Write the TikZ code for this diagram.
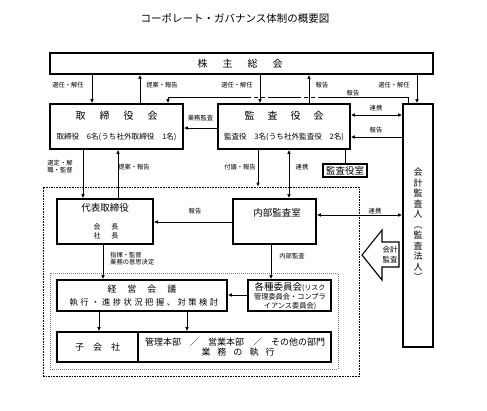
\documentclass[tikz,border=0pt]{standalone}
\usepackage{fontspec}
\setmainfont{Noto Sans CJK JP}
\newfontfamily\jpwide[LetterSpace=30]{Noto Sans CJK JP}
\usetikzlibrary{arrows.meta,calc}
\begin{document}
\begin{tikzpicture}[x=1pt,y=-1pt,
  box/.style={draw, line width=1.6pt, inner sep=0pt},
  txt/.style={inner sep=0pt},
  lbl/.style={inner sep=0pt, font=\fontsize{6.3}{7.5}\selectfont},
  arr/.style={line width=0.9pt, -{Latex[length=4pt,width=3.6pt]}},
  darr/.style={line width=0.9pt, {Latex[length=4pt,width=3.6pt]}-{Latex[length=4pt,width=3.6pt]}},
  plain/.style={line width=0.9pt},
]
\useasboundingbox (0,0) rectangle (487,410);

% title
\node[txt, font=\fontsize{10.5}{12}\selectfont] (title) at (235,18) {コーポレート・ガバナンス体制の概要図};

% outer dotted frames
\node[draw, line width=0.8pt, dash pattern=on 1.6pt off 1pt, minimum width=316pt, minimum height=189pt, inner sep=0pt] (outer) at (201,281.5) {};
\node[draw, gray, line width=0.6pt, dash pattern=on 1pt off 1pt, minimum width=288pt, minimum height=96pt, inner sep=0pt] (inner) at (194,321) {};

% boxes
\node[box, minimum width=383pt, minimum height=21pt] (sh) at (241.5,63.5) {};
\node[box, minimum width=133pt, minimum height=45pt] (tb) at (116.5,126.5) {};
\node[box, minimum width=132pt, minimum height=45pt] (ak) at (284,126.5) {};
\node[box, minimum width=30pt, minimum height=243pt] (ks) at (418,225.5) {};
\node[draw, line width=1.2pt, inner sep=0pt, minimum width=44pt, minimum height=13pt, font=\fontsize{9.5}{11}\selectfont] (ash) at (345,170.5) {監査役室};
\node[box, minimum width=96pt, minimum height=45pt] (dt) at (105,221.5) {};
\node[box, minimum width=83pt, minimum height=45pt] (nk) at (274.5,221.5) {};
\node[box, minimum width=170pt, minimum height=31pt] (kk) at (142,295.5) {};
\node[box, minimum width=83pt, minimum height=31pt] (ii) at (289.5,295.5) {};
\node[box, minimum width=274pt, minimum height=30pt] (bt) at (194,347) {};
\draw[line width=1.6pt] (138,0 |- bt.north) -- (138,0 |- bt.south);

% box texts
\node[txt, font=\fontsize{10}{12}\selectfont] (shT) at (240,63.5) {株\hspace{15pt}主\hspace{15pt}総\hspace{15pt}会};
\node[txt, font=\fontsize{10}{12}\selectfont] (tbT) at (116.5,116) {取\hspace{14pt}締\hspace{14pt}役\hspace{14pt}会};
\node[txt, font=\fontsize{7.6}{9}\selectfont] (tbS) at (116.5,137) {取締役　6名(うち社外取締役　1名)};
\node[txt, font=\fontsize{10}{12}\selectfont] (akT) at (284,116) {監\hspace{13pt}査\hspace{13pt}役\hspace{13pt}会};
\node[txt, font=\fontsize{7.6}{9}\selectfont] (akS) at (284,137) {監査役　3名(うち社外監査役　2名)};
\node[txt, align=center, font=\fontsize{9}{10.5}\selectfont] (ksT) at (418,224.5) {会\\計\\監\\査\\人\\︵\\監\\査\\法\\人\\︶};
\node[txt, font=\fontsize{9.5}{11}\selectfont] (dtT) at (105,208) {代表取締役};
\node[txt, font=\fontsize{7}{8}\selectfont] (dtA) at (106,227) {会\hspace{11pt}長};
\node[txt, font=\fontsize{7}{8}\selectfont] (dtB) at (106,236) {社\hspace{11pt}長};
\node[txt, font=\fontsize{9.5}{11}\selectfont] (nkT) at (277,213) {内部監査室};
\node[txt, font=\fontsize{9}{11}\selectfont] (kkT) at (142,289) {経\hspace{11pt}営\hspace{11pt}会\hspace{11pt}議};
\node[txt, font=\jpwide\fontsize{8.3}{10}\selectfont] (kkS) at (144,302) {執行・進捗状況把握、対策検討};
\node[txt] (iiA) at (290,287) {\fontsize{9.5}{11}\selectfont 各種委員会\fontsize{7}{8}\selectfont(リスク};
\node[txt, font=\fontsize{7.2}{8}\selectfont] (iiB) at (290,297) {管理委員会・コンプラ};
\node[txt, font=\fontsize{7.2}{8}\selectfont] (iiC) at (290,306) {イアンス委員会)};
\node[txt, font=\fontsize{9}{11}\selectfont] (btA) at (97.5,347) {子\hspace{9pt}会\hspace{9pt}社};
\node[txt, font=\fontsize{9}{11}\selectfont] (btB) at (235,342) {管理本部　／　営業本部　／　その他の部門};
\node[txt, font=\fontsize{9}{11}\selectfont] (btC) at (238,352) {業\hspace{7pt}務\hspace{7pt}の\hspace{7pt}執\hspace{7pt}行};

% shareholders connections
\draw[arr] (92,0 |- sh.south) -- (92,0 |- tb.north);
\node[lbl] (l1) at (68,85) {選任・解任};
\draw[arr] (140,0 |- tb.north) -- (140,0 |- sh.south);
\node[lbl] (l2) at (162,85) {提案・報告};
\draw[arr] (260,0 |- sh.south) -- (260,0 |- ak.north);
\node[lbl] (l3) at (237,85) {選任・解任};
\draw[arr] (309,0 |- ak.north) -- (309,0 |- sh.south);
\node[lbl] (l4) at (322,85) {報告};
\draw[arr] (417,0 |- sh.south) -- (417,0 |- ks.north);
\node[lbl] (l5) at (394,85) {選任・解任};

% long report line from auditor to board
\coordinate (r1) at (408,97);
\coordinate (r2) at (322,97);
\coordinate (r3) at (298,97);
\coordinate (r4) at (272,97);
\coordinate (r5) at (248,97);
\coordinate (r6) at (168,97);
\draw[plain] (408,0 |- ks.north) -- (r1) -- (r2);
\draw[plain, dash pattern=on 4pt off 3pt] (r2) -- (r3);
\draw[plain] (r3) -- (r4);
\draw[plain, dash pattern=on 4pt off 3pt] (r4) -- (r5);
\draw[arr] (r5) -- (r6) -- (168,0 |- tb.north);
\node[lbl] (l6) at (353,93.5) {報告};

% audit board connections
\draw[arr] (ak.west |- 0,128) -- (tb.east |- 0,128);
\node[lbl] (l7) at (200.5,118) {業務監査};
\draw[darr] (ak.east |- 0,115) -- (ks.west |- 0,115);
\node[lbl] (l8) at (376,108) {連携};
\draw[arr] (ks.west |- 0,137) -- (ak.east |- 0,137);
\node[lbl] (l9) at (376,130) {報告};
\draw[plain] (345,0 |- ak.south) -- (ash.north);

% board to representative
\draw[arr] (83,0 |- tb.south) -- (83,0 |- dt.north);
\node[lbl, align=center] (l10) at (60,166.5) {選定・解\\職・監督};
\draw[arr] (118,0 |- dt.north) -- (118,0 |- tb.south);
\node[lbl] (l11) at (134,167) {提案・報告};
\draw[arr] (258,0 |- ak.south) -- (258,0 |- outer.north);
\node[lbl] (l12) at (240,167) {付議・報告};
\draw[darr] (289,0 |- ak.south) -- (289,0 |- nk.north);
\node[lbl] (l13) at (302,167) {連携};

% internal audit
\draw[arr] (nk.west |- 0,222) -- (dt.east |- 0,222);
\node[lbl] (l14) at (195,211) {報告};
\draw[darr] (nk.east |- 0,215) -- (ks.west |- 0,215);
\node[lbl] (l15) at (375,211) {連携};
\draw[arr] (103,0 |- dt.south) -- (103,0 |- kk.north);
\node[lbl, align=left, anchor=west] (l16) at (110,258.5) {指揮・監督\\業務の意思決定};
\draw[arr] (271,0 |- nk.south) -- (271,0 |- ii.north);
\node[lbl] (l17) at (292,256) {内部監査};
\draw[arr] (ii.west |- 0,295) -- (kk.east |- 0,295);

% management meeting to execution
\draw[arr] (99,0 |- kk.south) -- (99,0 |- bt.north);
\draw[arr] (187,0 |- kk.south) -- (187,0 |- bt.north);

% block arrow: accounting audit
\draw[line width=1.1pt, fill=white] (362,255) -- (382,230) -- (382,242) -- (399,242) -- (399,267) -- (382,267) -- (382,280) -- cycle;
\node[txt, align=center, font=\fontsize{7.5}{10}\selectfont] (ba) at (390,255) {会計\\監査};
\end{tikzpicture}
\end{document}
